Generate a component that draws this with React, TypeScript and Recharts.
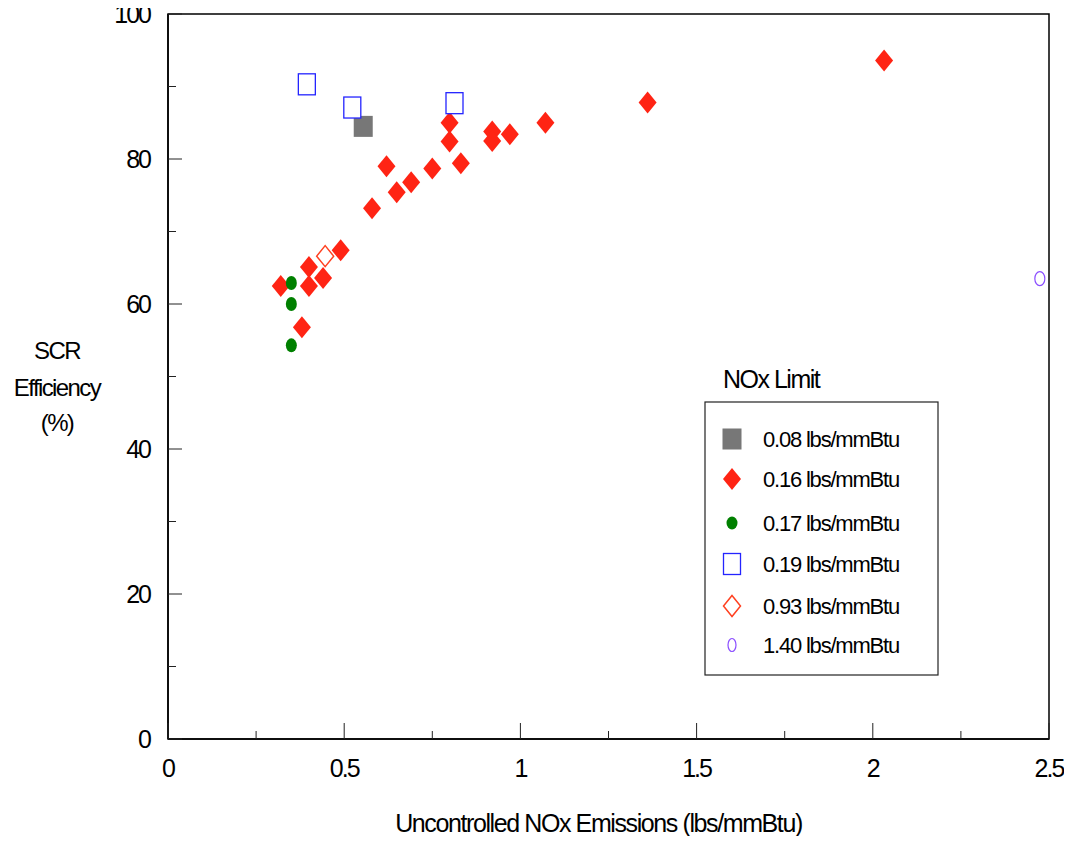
import React from 'react';
import { ScatterChart, Scatter, XAxis, YAxis, ReferenceArea, Legend } from 'recharts';

const xTicks = [0, 0.25, 0.5, 0.75, 1, 1.25, 1.5, 1.75, 2, 2.25, 2.5];
const yTicks = [0, 10, 20, 30, 40, 50, 60, 70, 80, 90, 100];

// NOx limit groups
const limitNames = [
	'0.08 lbs/mmBtu',
	'0.16 lbs/mmBtu',
	'0.17 lbs/mmBtu',
	'0.19 lbs/mmBtu',
	'0.93 lbs/mmBtu',
	'1.40 lbs/mmBtu'
];

const x008 = [0.554];
const y008 = [84.5];

const x016 = [0.32, 0.4, 0.4, 0.44, 0.38, 0.49, 0.579, 0.62, 0.649, 0.69, 0.75, 0.799, 0.799, 0.831, 0.92, 0.92, 0.97, 1.071, 1.361, 2.032];
const y016 = [62.5, 65.1, 62.5, 63.6, 56.8, 67.4, 73.2, 79.0, 75.4, 76.8, 78.7, 85.0, 82.4, 79.4, 83.8, 82.5, 83.4, 85.0, 87.8, 93.6];

const x017 = [0.35, 0.35, 0.35];
const y017 = [62.9, 60.0, 54.3];

const x019 = [0.394, 0.523, 0.813];
const y019 = [90.3, 87.1, 87.7];

const x093 = [0.446];
const y093 = [66.6];

const x140 = [2.474];
const y140 = [63.5];

const zip = (xs: number[], ys: number[]) => xs.map((x, i) => ({ x, y: ys[i] }));

const FONT = '"Liberation Sans", Arial, sans-serif';

const diamondPath = (cx: number, cy: number, w: number, h: number) =>
	`M${cx},${cy - h / 2} L${cx + w / 2},${cy} L${cx},${cy + h / 2} L${cx - w / 2},${cy} Z`;

const drawMark = (kind: number, cx: number, cy: number, small = false) => {
	switch (kind) {
		case 0:
			return <rect x={cx - 9.5} y={cy - 10.5} width={19} height={21} fill="#777777" />;
		case 1:
			return <path d={diamondPath(cx, cy, 18, 22)} fill="#ff2414" />;
		case 2:
			return <ellipse cx={cx} cy={cy} rx={5.5} ry={small ? 6.5 : 7} fill="#008000" />;
		case 3:
			return <rect x={cx - 8.5} y={cy - 10.5} width={17} height={21} fill="#fff" stroke="#2424ff" strokeWidth={1.3} />;
		case 4:
			return <path d={diamondPath(cx, cy, 17, 21)} fill="#fff" stroke="#ff4020" strokeWidth={1.5} />;
		default:
			return (
				<ellipse cx={cx} cy={cy} rx={small ? 4 : 5} ry={small ? 6.5 : 7} fill="#fff" stroke="#8a4dff" strokeWidth={1.2} />
			);
	}
};

const makeShape = (kind: number) => (props: any) => {
	const { cx, cy } = props;
	return <g>{drawMark(kind, cx, cy)}</g>;
};

const XTick = (props: any) => {
	const { x, y, payload } = props;
	const v = payload.value;
	const major = Math.abs(v * 2 - Math.round(v * 2)) < 1e-6;
	return (
		<g>
			<line x1={x} x2={x} y1={y} y2={y - (major ? 16 : 8)} stroke="#222" strokeWidth={1} />
			{major && (
				<text x={x} y={y + 38} textAnchor="middle" fontSize={25} letterSpacing={-2} fill="#000" fontFamily={FONT}>
					{String(v)}
				</text>
			)}
		</g>
	);
};

const YTick = (props: any) => {
	const { x, y, payload } = props;
	const v = payload.value;
	const major = v % 20 === 0;
	return (
		<g>
			<line x1={x} x2={x + (major ? 14 : 8)} y1={y} y2={y} stroke="#222" strokeWidth={1} />
			{major && (
				<text x={x - 18} y={y + 9} textAnchor="end" fontSize={25} letterSpacing={-2} fill="#000" fontFamily={FONT}>
					{String(v)}
				</text>
			)}
		</g>
	);
};

const YTitle = (props: any) => {
	const { viewBox } = props;
	const cx = viewBox.x + 49;
	const cy = viewBox.y + viewBox.height / 2;
	return (
		<text textAnchor="middle" fontSize={24} letterSpacing={-1.6} fill="#000" fontFamily={FONT}>
			<tspan x={cx} y={cy - 18}>SCR</tspan>
			<tspan x={cx} y={cy + 19}>Efficiency</tspan>
			<tspan x={cx} y={cy + 54}>(%)</tspan>
		</text>
	);
};

const XTitle = (props: any) => {
	const { viewBox } = props;
	return (
		<text
			x={viewBox.x + viewBox.width / 2 - 10}
			y={viewBox.y + 93}
			textAnchor="middle"
			fontSize={25}
			letterSpacing={-1.4}
			fill="#000"
			fontFamily={FONT}
		>
			Uncontrolled NOx Emissions (lbs/mmBtu)
		</text>
	);
};

const rowY = [84, 124, 168, 209, 251, 290];

const LegendBox = () => (
	<svg width={250} height={330} style={{ overflow: 'visible' }}>
		<text x={23} y={33} fontSize={25} letterSpacing={-1.5} fill="#000" fontFamily={FONT}>
			NOx Limit
		</text>
		<rect x={5} y={47} width={233} height={273} fill="#fff" stroke="#222" strokeWidth={1.2} />
		{limitNames.map((name, i) => (
			<g key={name}>
				{drawMark(i, 32, rowY[i], true)}
				<text x={63} y={rowY[i] + 8} fontSize={22} letterSpacing={-1.2} fill="#000" fontFamily={FONT}>
					{name}
				</text>
			</g>
		))}
	</svg>
);

const series = [
	zip(x008, y008),
	zip(x016, y016),
	zip(x017, y017),
	zip(x019, y019),
	zip(x093, y093),
	zip(x140, y140)
];

const App = () => {
	return (
		<div style={{ marginTop: -8 }}>
			<ScatterChart width={1056} height={836} margin={{ top: 14, right: 15, bottom: 0, left: 0 }}>
				<ReferenceArea x1={0} x2={2.5} y1={0} y2={100} fill="none" stroke="#000" strokeWidth={1.5} />
				<XAxis
					type="number"
					dataKey="x"
					domain={[0, 2.5]}
					ticks={xTicks}
					interval={0}
					height={97}
					tickSize={0}
					tickMargin={0}
					tickLine={false}
					axisLine={{ stroke: '#000', strokeWidth: 1.5 }}
					tick={<XTick />}
					allowDataOverflow
					label={<XTitle />}
				/>
				<YAxis
					type="number"
					dataKey="y"
					domain={[0, 100]}
					ticks={yTicks}
					interval={0}
					width={160}
					tickSize={0}
					tickMargin={0}
					tickLine={false}
					axisLine={{ stroke: '#000', strokeWidth: 1.5 }}
					tick={<YTick />}
					allowDataOverflow
					label={<YTitle />}
				/>
				<Legend
					layout="vertical"
					align="center"
					verticalAlign="middle"
					content={() => <LegendBox />}
					wrapperStyle={{ position: 'absolute', left: 692, top: 355, width: 250, height: 330 }}
				/>
				{series.map((data, i) => (
					<Scatter
						key={limitNames[i]}
						name={limitNames[i]}
						data={data}
						shape={makeShape(i)}
						isAnimationActive={false}
					/>
				))}
			</ScatterChart>
		</div>
	);
};

export default App;
